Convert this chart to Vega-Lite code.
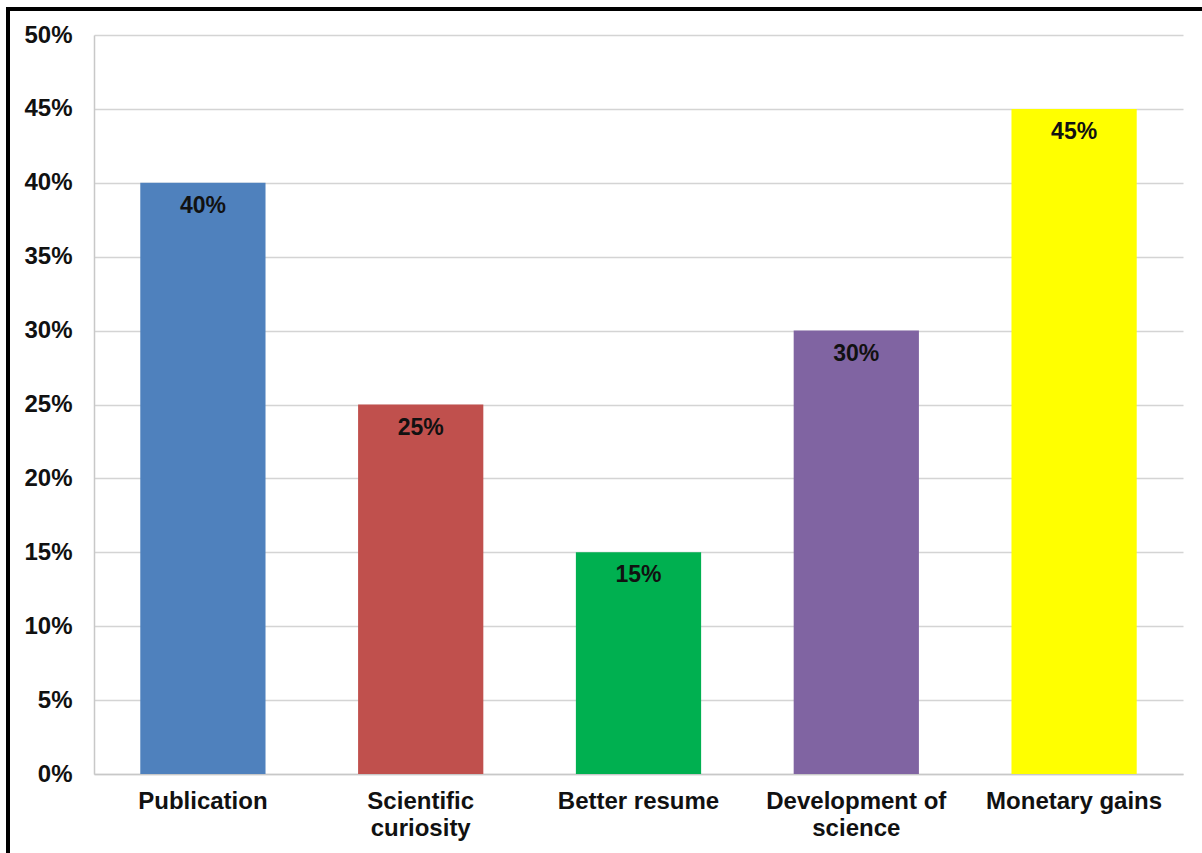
{
  "$schema": "https://vega.github.io/schema/vega-lite/v6.json",
  "autosize": {"type": "none"},
  "padding": {"left": 8, "top": 9, "right": 0, "bottom": 0},
  "width": 1194,
  "height": 844,
  "background": "#ffffff",
  "config": {
    "view": {"stroke": "#000000", "strokeWidth": 4, "strokeDash": [1194, 2038, 844]},
    "font": "Liberation Sans"
  },
  "data": {
    "values": [
      {"reason": "Publication", "share": 0.40, "color": "#4F81BD"},
      {"reason": "Scientific|curiosity", "share": 0.25, "color": "#C0504D"},
      {"reason": "Better resume", "share": 0.15, "color": "#00B050"},
      {"reason": "Development of|science", "share": 0.30, "color": "#8064A2"},
      {"reason": "Monetary gains", "share": 0.45, "color": "#FFFF00"}
    ]
  },
  "encoding": {
    "x": {
      "field": "reason",
      "type": "nominal",
      "sort": null,
      "scale": {"paddingInner": 0.425, "range": [86, 1175]},
      "axis": {
        "title": null,
        "offset": -79,
        "labelAngle": 0,
        "labelExpr": "split(datum.label, '|')",
        "labelFont": "Liberation Sans",
        "labelFontSize": 24,
        "labelFontWeight": "bold",
        "labelColor": "#111111",
        "labelPadding": 15,
        "labelLineHeight": 27,
        "labelBaseline": "top",
        "labelLimit": 400,
        "ticks": false,
        "domainColor": "#c8c8c8",
        "domainWidth": 1.5,
        "grid": false
      }
    },
    "y": {
      "field": "share",
      "type": "quantitative",
      "scale": {"domain": [0, 0.5], "nice": false, "range": [765, 26]},
      "axis": {
        "title": null,
        "offset": -86,
        "format": ".0%",
        "values": [0, 0.05, 0.1, 0.15, 0.2, 0.25, 0.3, 0.35, 0.4, 0.45, 0.5],
        "labelFont": "Liberation Sans",
        "labelFontSize": 24,
        "labelFontWeight": "bold",
        "labelColor": "#111111",
        "labelPadding": 22,
        "ticks": false,
        "domainColor": "#c8c8c8",
        "domainWidth": 1.5,
        "grid": true,
        "gridColor": "#d4d4d4",
        "gridWidth": 1.5
      }
    }
  },
  "layer": [
    {
      "mark": {"type": "bar"},
      "encoding": {
        "color": {"field": "color", "type": "nominal", "scale": null, "legend": null}
      }
    },
    {
      "mark": {
        "type": "text",
        "baseline": "alphabetic",
        "dy": 30,
        "font": "Liberation Sans",
        "fontSize": 23,
        "fontWeight": "bold",
        "color": "#111111"
      },
      "encoding": {
        "text": {"field": "share", "type": "quantitative", "format": ".0%"}
      }
    }
  ]
}
